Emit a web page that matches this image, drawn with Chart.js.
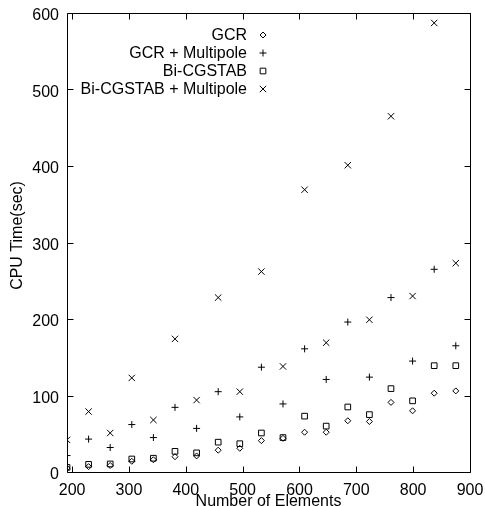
<!DOCTYPE html>
<html><head><meta charset="utf-8">
<script src="https://cdn.jsdelivr.net/npm/chart.js@4/dist/chart.umd.min.js"></script>
<style>html,body{margin:0;padding:0;background:#fff}</style>
</head><body>
<canvas id="c" width="485" height="506"></canvas>
<script>
// ---- data ----
const elements = [191,229,267,305,343,381,419,457,495,533,571,609,647,685,723,761,799,837,875];
const gcr = [5,7,8.5,14,16,20,21,28.5,31,41,44,52,52,67,66,91,80,103,106];
const gcrMultipole = [21.5,43,32,62,45,84.5,57,105,72,137,89,161,121,196,124,228,145,265,165];
const bicgstab = [6,10,10.5,17,18,27,25,39,37,51,45,73,60,85,75,109,93,139,139];
const bicgstabMultipole = [42,79,51,123,68,174,94,228,105,262,138,369,169,401,199,465,230,587,273];
const seriesNames = ['GCR','GCR + Multipole','Bi-CGSTAB','Bi-CGSTAB + Multipole'];
const xTicks = [200,300,400,500,600,700,800,900];
const yTicks = [0,100,200,300,400,500,600];
const xTitle = 'Number of Elements';
const yTitle = 'CPU Time(sec)';

const FONT = "'Liberation Sans', Arial, Helvetica, sans-serif";
Chart.defaults.font.family = FONT;
Chart.defaults.font.size = 16;
Chart.defaults.color = '#000';

const styles = [
  {pointStyle:'rectRot', radius:3},
  {pointStyle:'cross', radius:3.5},
  {pointStyle:'rect', radius:4},
  {pointStyle:'crossRot', radius:4.5}
];
const values = [gcr, gcrMultipole, bicgstab, bicgstabMultipole];

const datasets = values.map((arr,i)=>({
  label: seriesNames[i],
  data: elements.map((x,j)=>({x:x, y:arr[j]})),
  pointStyle: styles[i].pointStyle,
  pointRadius: styles[i].radius,
  pointHoverRadius: styles[i].radius,
  borderColor:'#000',
  backgroundColor:'rgba(0,0,0,0)',
  pointBorderWidth:1,
  showLine:false
}));

const framePlugin = {
  id:'frame',
  afterDraw(chart){
    const {ctx, chartArea:a, scales:{x,y}} = chart;
    ctx.save();
    ctx.strokeStyle='#000';
    ctx.lineWidth=1;
    const L=Math.round(a.left)+0.5, R=Math.round(a.right)+0.5, T=Math.round(a.top)+0.5, B=Math.round(a.bottom)+0.5;
    ctx.beginPath();
    ctx.rect(L,T,R-L,B-T);
    const tl=6;
    xTicks.forEach(v=>{
      const px=Math.round(x.getPixelForValue(v))+0.5;
      ctx.moveTo(px,B); ctx.lineTo(px,B-tl);
      ctx.moveTo(px,T); ctx.lineTo(px,T+tl);
    });
    yTicks.forEach(v=>{
      const py=Math.round(y.getPixelForValue(v))+0.5;
      ctx.moveTo(L,py); ctx.lineTo(L+tl,py);
      ctx.moveTo(R,py); ctx.lineTo(R-tl,py);
    });
    ctx.stroke();
    // y axis title
    ctx.font = '16px ' + FONT;
    ctx.fillStyle='#000';
    ctx.save();
    ctx.translate(a.left - 49, (a.top + a.bottom)/2 - 7);
    ctx.rotate(-Math.PI/2);
    ctx.textAlign='center';
    ctx.textBaseline='middle';
    ctx.fillText(yTitle, 0, 0);
    ctx.restore();
    // legend
    ctx.textAlign='right';
    ctx.textBaseline='middle';
    chart.data.datasets.forEach((ds,i)=>{
      const ty = a.top + 22 + i*18;
      ctx.fillStyle='#000';
      ctx.fillText(ds.label, a.left + 180, ty+1);
      ctx.fillStyle='rgba(0,0,0,0)';
      ctx.strokeStyle='#000';
      Chart.helpers.drawPoint(ctx, {pointStyle:ds.pointStyle, radius:ds.pointRadius, rotation:0, borderWidth:1}, a.left + 196, ty);
    });
    ctx.restore();
  }
};

new Chart(document.getElementById('c'), {
  type:'scatter',
  data:{datasets},
  options:{
    responsive:false,
    animation:false,
    layout:{padding:{top:13,right:15,left:0,bottom:0}},
    plugins:{legend:{display:false}, tooltip:{enabled:false}},
    scales:{
      x:{
        type:'linear', min:191, max:900,
        afterBuildTicks(s){ s.ticks = xTicks.map(v=>({value:v})); },
        afterFit(s){ s.height = 34; s.paddingLeft = 0; s.paddingRight = 0; },
        grid:{display:false, drawTicks:false},
        border:{display:false},
        ticks:{padding:9, font:{size:16}, maxRotation:0, autoSkip:false},
        title:{display:true, text:xTitle, font:{size:16}, padding:{top:0,bottom:-5}}
      },
      y:{
        type:'linear', min:0, max:600,
        afterBuildTicks(s){ s.ticks = yTicks.map(v=>({value:v})); },
        afterFit(s){ s.width = 67; s.paddingTop = 0; s.paddingBottom = 0; },
        grid:{display:false, drawTicks:false},
        border:{display:false},
        ticks:{padding:8, font:{size:16}, autoSkip:false, labelOffset:3},
        title:{display:false}
      }
    }
  },
  plugins:[framePlugin]
});
</script>
</body></html>
